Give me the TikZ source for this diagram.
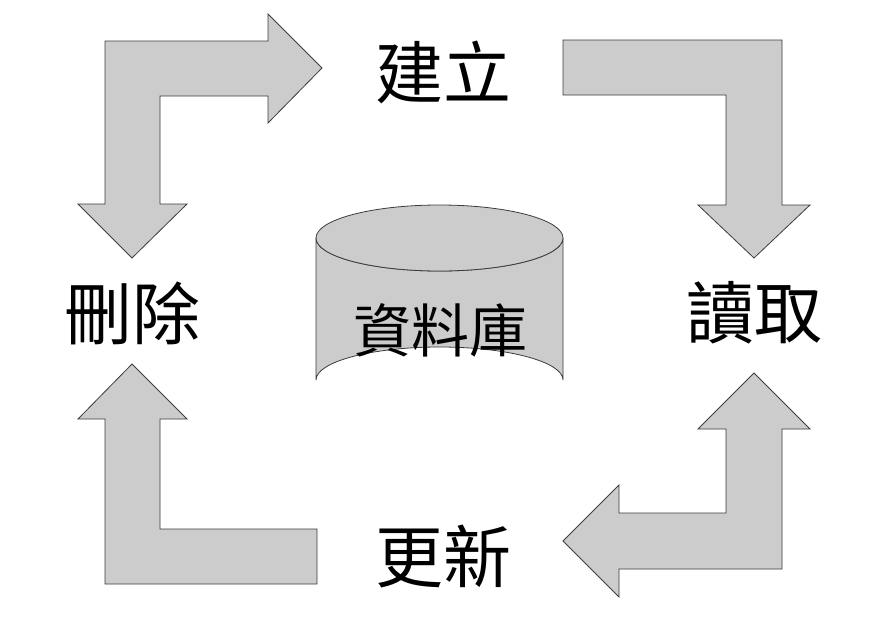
\documentclass[tikz,border=0pt]{standalone}
\usepackage{fontspec}
\newfontfamily\cjk{Noto Sans CJK TC}
\begin{document}
\begin{tikzpicture}[x=1pt,y=-1pt,
  arr/.style={fill={rgb,255:red,204;green,204;blue,204},draw={rgb,255:red,60;green,60;blue,60},line width=0.8pt,line join=miter},
  lbl/.style={font=\cjk\fontsize{68}{70}\selectfont,inner sep=0pt},
  db/.style={font=\cjk\fontsize{58}{60}\selectfont,inner sep=0pt}]
\useasboundingbox (0,0) rectangle (887,638);
\fill[white] (0,0) rectangle (887,638);
% top-left
\draw[arr] (105,41) -- (268,41) -- (268,14) -- (322,68) -- (268,123) -- (268,96) -- (160,96) -- (160,204) -- (187,204) -- (132,258) -- (78,204) -- (105,204) -- cycle;
% top-right
\draw[arr] (563,40) -- (782,40) -- (782,205) -- (810,205) -- (754,258) -- (698,205) -- (726,205) -- (726,95) -- (563,95) -- cycle;
% bottom-right
\draw[arr] (754,373) -- (810,429) -- (782,429) -- (782,569) -- (619,569) -- (619,597) -- (563,541) -- (619,485) -- (619,513) -- (726,513) -- (726,429) -- (698,429) -- cycle;
% bottom-left
\draw[arr] (132,364) -- (187,419) -- (160,419) -- (160,529) -- (317,529) -- (317,584) -- (105,584) -- (105,419) -- (78,419) -- cycle;
% cylinder
\draw[arr] (316,238) -- (316,380) arc[start angle=180,end angle=360,x radius=123.5,y radius=33] -- (563,238) arc[start angle=0,end angle=180,x radius=123.5,y radius=33];
\draw[arr] (439.5,238) ellipse[x radius=123.5,y radius=33];
\node[db] (db) at (440,330) {資料庫};
\node[lbl] (c) at (443,72) {建立};
\node[lbl] (r) at (754,313) {讀取};
\node[lbl] (u) at (443,556) {更新};
\node[lbl] (d) at (132,313) {刪除};
\end{tikzpicture}
\end{document}
